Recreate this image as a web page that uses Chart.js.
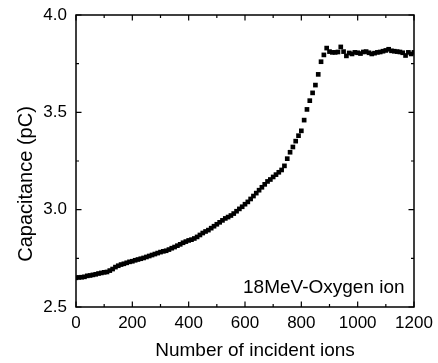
<!DOCTYPE html>
<html>
<head>
<meta charset="utf-8">
<script src="https://cdn.jsdelivr.net/npm/chart.js@4/dist/chart.umd.min.js"></script>
<style>
  html, body { margin: 0; padding: 0; background: #fff; }
  #wrap { width: 438px; height: 363px; }
</style>
</head>
<body>
<div id="wrap"><canvas id="chart" width="438" height="363"></canvas></div>
<script>
// Number of incident ions
const ions = [
    0, 10, 20, 30, 40, 50, 60, 70, 80, 90,
    100, 110, 120, 130, 140, 150, 160, 170, 180, 190,
    200, 210, 220, 230, 240, 250, 260, 270, 280, 290,
    300, 310, 320, 330, 340, 350, 360, 370, 380, 390,
    400, 410, 420, 430, 440, 450, 460, 470, 480, 490,
    500, 510, 520, 530, 540, 550, 560, 570, 580, 590,
    600, 610, 620, 630, 640, 650, 660, 670, 680, 690,
    700, 710, 720, 730, 740, 750, 760, 770, 780, 790,
    800, 810, 820, 830, 840, 850, 860, 870, 880, 890,
    900, 910, 920, 930, 940, 950, 960, 970, 980, 990,
    1000, 1010, 1020, 1030, 1040, 1050, 1060, 1070, 1080, 1090,
    1100, 1110, 1120, 1130, 1140, 1150, 1160, 1170, 1180, 1190,
    1200
];

// Capacitance (pC)
const capacitance = [
    2.650, 2.652, 2.653, 2.655, 2.660, 2.662, 2.665, 2.668, 2.672, 2.675,
    2.678, 2.680, 2.687, 2.695, 2.705, 2.712, 2.718, 2.722, 2.727, 2.732,
    2.735, 2.740, 2.744, 2.748, 2.752, 2.757, 2.762, 2.767, 2.772, 2.777,
    2.782, 2.786, 2.789, 2.795, 2.802, 2.808, 2.815, 2.822, 2.830, 2.836,
    2.842, 2.846, 2.852, 2.860, 2.870, 2.880, 2.888, 2.895, 2.905, 2.915,
    2.925, 2.935, 2.945, 2.955, 2.962, 2.970, 2.980, 2.992, 3.004, 3.015,
    3.028, 3.040, 3.055, 3.070, 3.085, 3.100, 3.115, 3.130, 3.145, 3.155,
    3.168, 3.180, 3.192, 3.204, 3.225, 3.262, 3.295, 3.322, 3.352, 3.380,
    3.405, 3.460, 3.515, 3.560, 3.600, 3.640, 3.695, 3.760, 3.795, 3.830,
    3.812, 3.808, 3.808, 3.810, 3.836, 3.812, 3.790, 3.805, 3.800, 3.808,
    3.806, 3.802, 3.810, 3.812, 3.806, 3.800, 3.804, 3.808, 3.810, 3.814,
    3.818, 3.824, 3.816, 3.814, 3.812, 3.810, 3.806, 3.792, 3.808, 3.800,
    3.808
];

const xMajorTicks = [0, 200, 400, 600, 800, 1000, 1200];
const xMinorTicks = [100, 300, 500, 700, 900, 1100];
const yMajorTicks = [2.5, 3.0, 3.5, 4.0];
const yMinorTicks = [2.75, 3.25, 3.75];

const xTitle = 'Number of incident ions';
const yTitle = 'Capacitance (pC)';
const note = '18MeV-Oxygen ion';

const tickFont = { family: 'Arial, "Liberation Sans", sans-serif', size: 17 };
const titleFont = '19px Arial, "Liberation Sans", sans-serif';
const yTitleFont = '20px Arial, "Liberation Sans", sans-serif';

// frame, inward ticks and texts
const framePlugin = {
    id: 'frame',
    afterDraw(chart) {
        const { ctx, chartArea: a, scales: { x, y } } = chart;
        ctx.save();
        ctx.strokeStyle = '#000';
        ctx.lineWidth = 1.5;
        ctx.strokeRect(a.left, a.top, a.right - a.left, a.bottom - a.top);

        ctx.lineWidth = 1.2;
        ctx.beginPath();
        const xt = (list, len) => list.forEach(v => {
            const px = x.getPixelForValue(v);
            ctx.moveTo(px, a.bottom); ctx.lineTo(px, a.bottom - len);
            ctx.moveTo(px, a.top); ctx.lineTo(px, a.top + len);
        });
        const yt = (list, len) => list.forEach(v => {
            const py = y.getPixelForValue(v);
            ctx.moveTo(a.left, py); ctx.lineTo(a.left + len, py);
            ctx.moveTo(a.right, py); ctx.lineTo(a.right - len, py);
        });
        xt(xMajorTicks, 5.5);
        xt(xMinorTicks, 3);
        yt(yMajorTicks, 5.5);
        yt(yMinorTicks, 3);
        ctx.stroke();

        ctx.fillStyle = '#000';
        ctx.font = titleFont;
        ctx.textAlign = 'center';
        ctx.textBaseline = 'alphabetic';
        ctx.fillText(xTitle, 255, 356);

        ctx.save();
        ctx.font = yTitleFont;
        ctx.translate(32, 184);
        ctx.rotate(-Math.PI / 2);
        ctx.fillText(yTitle, 0, 0);
        ctx.restore();

        ctx.textAlign = 'left';
        ctx.fillText(note, 243, 293);
        ctx.restore();
    }
};

new Chart(document.getElementById('chart').getContext('2d'), {
    type: 'scatter',
    data: {
        datasets: [{
            data: ions.map((v, i) => ({ x: v, y: capacitance[i] })),
            pointStyle: 'rect',
            pointRadius: 3.3,
            pointBackgroundColor: '#000',
            pointBorderColor: '#000',
            pointBorderWidth: 0,
            showLine: false
        }]
    },
    options: {
        responsive: false,
        animation: false,
        events: [],
        layout: { padding: { top: 15, right: 24, left: 0, bottom: 0 } },
        plugins: {
            legend: { display: false },
            tooltip: { enabled: false },
            title: { display: false }
        },
        scales: {
            x: {
                type: 'linear',
                min: 0,
                max: 1200,
                afterFit: s => { s.height = 56; s.paddingLeft = 0; s.paddingRight = 0; },
                afterBuildTicks: s => { s.ticks = xMajorTicks.map(v => ({ value: v })); },
                grid: { display: false, drawTicks: false },
                border: { display: false },
                ticks: {
                    color: '#000', font: tickFont, padding: 6, maxRotation: 0,
                    callback: v => String(v)
                }
            },
            y: {
                type: 'linear',
                min: 2.5,
                max: 4.0,
                afterFit: s => { s.width = 76; s.paddingTop = 0; s.paddingBottom = 0; },
                afterBuildTicks: s => { s.ticks = yMajorTicks.map(v => ({ value: v })); },
                grid: { display: false, drawTicks: false },
                border: { display: false },
                ticks: {
                    color: '#000', font: tickFont, padding: 9,
                    callback: v => Number(v).toFixed(1)
                }
            }
        }
    },
    plugins: [framePlugin]
});
</script>
</body>
</html>
